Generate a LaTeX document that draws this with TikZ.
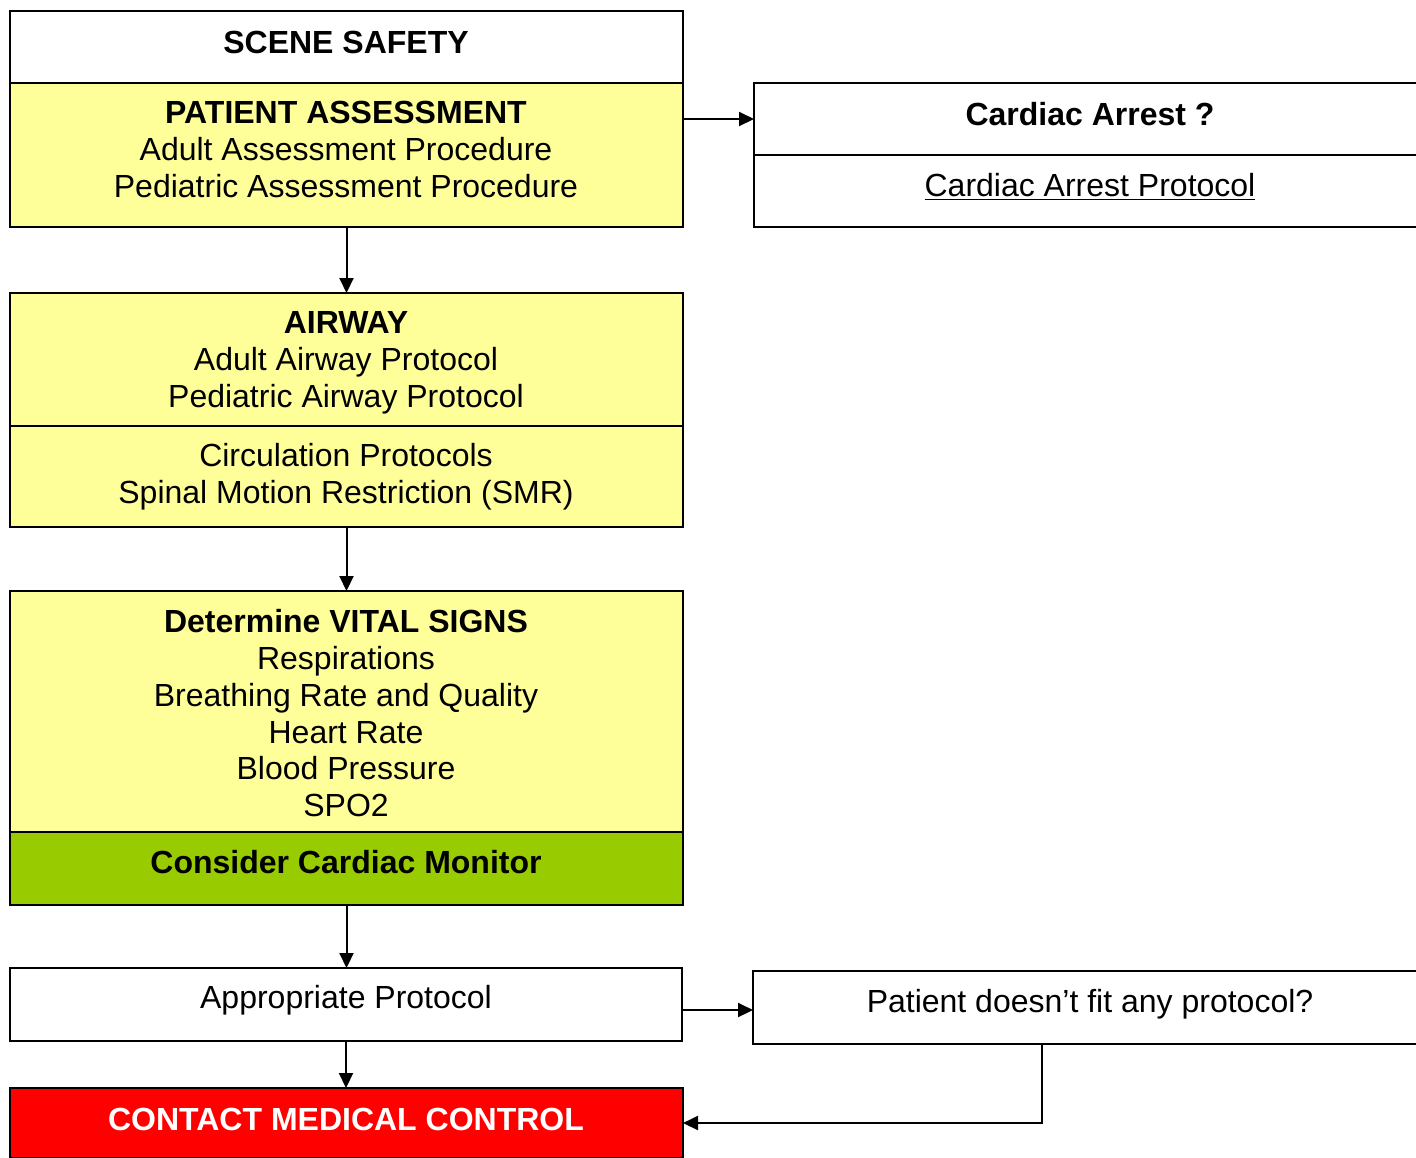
\documentclass[tikz,border=0pt]{standalone}
\usepackage{fontspec}
\setmainfont{Liberation Sans}
\usetikzlibrary{arrows.meta,calc}
\definecolor{boxyellow}{HTML}{FFFF99}
\definecolor{boxgreen}{HTML}{99CC00}
\definecolor{boxred}{HTML}{FF0000}
\tikzset{
  box/.style={draw=black, line width=1pt, rectangle, anchor=north west, inner sep=0pt, outer sep=0pt},
  txt/.style={anchor=base, inner sep=0pt, outer sep=0pt, font=\fontsize{16}{18.5}\selectfont},
  btxt/.style={txt, font=\fontsize{16}{18.5}\selectfont\bfseries},
  arr/.style={draw=black, line width=1pt, -{Triangle[length=7.5pt,width=7pt]}},
  plain/.style={draw=black, line width=1pt}
}
\begin{document}
\begin{tikzpicture}[x=0.5pt,y=-0.5pt]
\useasboundingbox (0,0) rectangle (1416,1157);
% boxes
\node[box, fill=white, minimum width=336.5pt, minimum height=36pt] (ss) at (10,11) {};
\node[box, fill=boxyellow, minimum width=336.5pt, minimum height=72pt] (pa) at (10,83) {};
\node[box, fill=white, minimum width=350pt, minimum height=36pt] (ca) at (754,83) {};
\node[box, fill=white, minimum width=350pt, minimum height=36pt] (cap) at (754,155) {};
\node[box, fill=boxyellow, minimum width=336.5pt, minimum height=66.5pt] (aw) at (10,293) {};
\node[box, fill=boxyellow, minimum width=336.5pt, minimum height=50.5pt] (circ) at (10,426) {};
\node[box, fill=boxyellow, minimum width=336.5pt, minimum height=120.5pt] (vs) at (10,591) {};
\node[box, fill=boxgreen, minimum width=336.5pt, minimum height=36.5pt] (cm) at (10,832) {};
\node[box, fill=white, minimum width=336pt, minimum height=36.5pt] (ap) at (10,968) {};
\node[box, fill=white, minimum width=350pt, minimum height=36.5pt] (pd) at (753,971) {};
\node[box, fill=boxred, minimum width=336.5pt, minimum height=35pt] (cmc) at (10,1088) {};
% texts
\node[btxt] (t1) at (346,53) {SCENE SAFETY};
\node[btxt] (t2) at (346,123) {PATIENT ASSESSMENT};
\node[txt] (t3) at (346,160) {Adult Assessment Procedure};
\node[txt] (t4) at (346,197) {Pediatric Assessment Procedure};
\node[btxt] (t5) at (1090,125) {Cardiac Arrest ?};
\node[txt] (t6) at (1090,196) {\underline{Cardiac Arrest Protocol}};
\node[btxt] (t7) at (346,333) {AIRWAY};
\node[txt] (t8) at (346,370) {Adult Airway Protocol};
\node[txt] (t9) at (346,407) {Pediatric Airway Protocol};
\node[txt] (t10) at (346,466) {Circulation Protocols};
\node[txt] (t11) at (346,503) {Spinal Motion Restriction (SMR)};
\node[btxt] (t12) at (346,632) {Determine VITAL SIGNS};
\node[txt] (t13) at (346,669) {Respirations};
\node[txt] (t14) at (346,706) {Breathing Rate and Quality};
\node[txt] (t15) at (346,743) {Heart Rate};
\node[txt] (t16) at (346,779) {Blood Pressure};
\node[txt] (t17) at (346,816) {SPO2};
\node[btxt] (t18) at (346,873) {Consider Cardiac Monitor};
\node[txt] (t19) at (346,1008) {Appropriate Protocol};
\node[txt] (t20) at (1090,1012) {Patient doesn’t fit any protocol?};
\node[btxt, text=white] (t21) at (346,1130) {CONTACT MEDICAL CONTROL};
% connectors
\draw[arr] (ca.west -| pa.east) -- (ca.west);
\draw[arr] (pa.south) -- (aw.north);
\draw[arr] (circ.south) -- (vs.north);
\draw[arr] (cm.south) -- (cm.south |- ap.north);
\draw[arr] (ap.south) -- (ap.south |- cmc.north);
\draw[arr] ([yshift=-2.75pt]ap.east) -- ([yshift=-2.75pt]ap.east -| pd.west);
\coordinate (turn) at (1042,1123);
\draw[arr] (pd.south -| turn) -- (turn) -- (cmc.east);
\end{tikzpicture}
\end{document}
